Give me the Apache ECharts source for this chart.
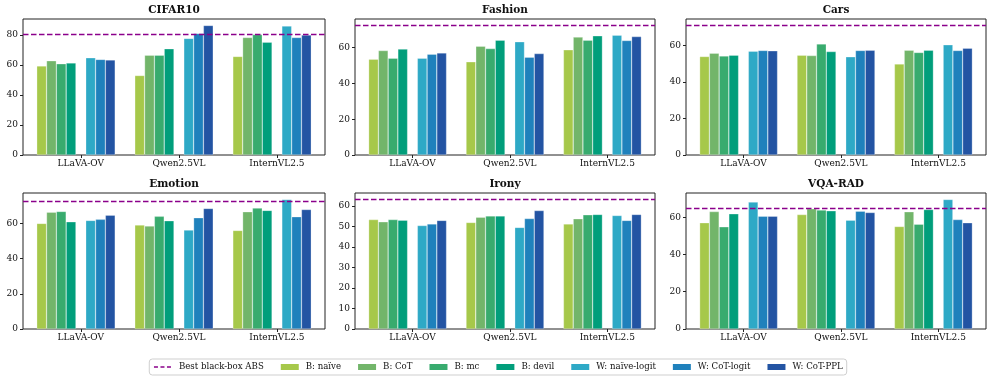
<!DOCTYPE html>
<html>
<head>
<meta charset="utf-8">
<script src="https://cdn.jsdelivr.net/npm/echarts@6/dist/echarts.min.js"></script>
<style>
html,body{margin:0;padding:0;background:#fff;}
#chart{width:996px;height:382px;}
</style>
</head>
<body>
<div id="chart"></div>
<script>
// ---------------- data ----------------
const categories = ['LLaVA-OV', 'Qwen2.5VL', 'InternVL2.5'];
const datasets = ['CIFAR10', 'Fashion', 'Cars', 'Emotion', 'Irony', 'VQA-RAD'];
const seriesNames = ['B: naïve', 'B: CoT', 'B: mc', 'B: devil', 'W: naïve-logit', 'W: CoT-logit', 'W: CoT-PPL'];
const bestName = 'Best black-box ABS';
const bestABS = [80.2, 72.3, 71.0, 72.8, 63.1, 65.0];
const yTickStep = [20, 20, 20, 20, 10, 20];

// rows: series (seriesNames order), columns: categories
const CIFAR10 = [
  [59.3, 52.9, 65.6],
  [62.7, 66.4, 78.2],
  [60.7, 66.4, 80.2],
  [61.3, 70.7, 75.1],
  [64.7, 77.6, 85.8],
  [63.6, 80.9, 78.2],
  [63.3, 86.2, 79.8]
];
const Fashion = [
  [53.5, 52.0, 58.7],
  [58.3, 60.7, 65.8],
  [54.0, 59.4, 64.1],
  [59.1, 64.1, 66.5],
  [54.0, 63.2, 66.9],
  [56.3, 54.6, 63.9],
  [57.0, 56.6, 66.1]
];
const Cars = [
  [54.0, 54.7, 49.9],
  [55.8, 54.5, 57.4],
  [54.3, 60.9, 56.2],
  [54.7, 56.7, 57.4],
  [56.9, 53.8, 60.4],
  [57.3, 57.3, 57.3],
  [57.1, 57.4, 58.5]
];
const Emotion = [
  [60.0, 59.1, 56.0],
  [66.4, 58.5, 66.6],
  [66.8, 64.0, 68.7],
  [60.9, 61.5, 67.4],
  [61.7, 56.2, 73.6],
  [62.3, 63.2, 63.8],
  [64.7, 68.5, 67.9]
];
const Irony = [
  [53.3, 51.9, 51.2],
  [52.2, 54.5, 53.7],
  [53.3, 55.1, 55.6],
  [53.0, 55.1, 55.8],
  [50.4, 49.5, 55.3],
  [51.2, 53.8, 52.9],
  [52.9, 57.7, 55.8]
];
const VQARAD = [
  [57.0, 61.4, 55.0],
  [63.0, 64.5, 62.9],
  [54.8, 63.8, 56.2],
  [61.8, 63.4, 64.1],
  [68.1, 58.4, 69.5],
  [60.5, 63.2, 58.7],
  [60.5, 62.5, 57.0]
];
const panelValues = [CIFAR10, Fashion, Cars, Emotion, Irony, VQARAD];

// ---------------- styles / layout ----------------
const colors = ['#a6c84a', '#72b56a', '#38ab6e', '#019e7b', '#2ea9c6', '#1f81bc', '#2354a3'];
const bestColor = '#8b008b';
const FONT = 'DejaVu Serif';
const colLeft = [23, 355, 686];
const colWidth = [302, 300, 300];
const rowTop = [19, 193];
const gridHeight = 136;

const chart = echarts.init(document.getElementById('chart'), null, {renderer: 'canvas'});

const grids = [], xAxes = [], yAxes = [], titles = [], series = [];
// slot order within a group: 4 black-box bars, gap, 3 white-box bars, gap (group centred on the first gap)
const slotMap = [0, 1, 2, 3, null, 4, 5, 6, null];

datasets.forEach((name, p) => {
  const r = Math.floor(p / 3), c = p % 3;
  grids.push({
    left: colLeft[c], top: rowTop[r], width: colWidth[c], height: gridHeight,
    show: true, borderColor: '#222', borderWidth: 1, backgroundColor: 'transparent'
  });
  titles.push({
    text: name, left: colLeft[c] + colWidth[c] / 2, top: rowTop[r] - 15, textAlign: 'center', padding: 0,
    textStyle: {fontFamily: FONT, fontWeight: 'bold', fontSize: 10.5, color: '#111', lineHeight: 12}
  });
  const vals = panelValues[p];
  let maxV = bestABS[p];
  vals.forEach(row => row.forEach(v => { if (v > maxV) maxV = v; }));
  const yMax = maxV * 1.05;
  const ticks = [];
  for (let t = 0; t <= yMax; t += yTickStep[p]) ticks.push(t);
  xAxes.push({
    type: 'value', gridIndex: p, min: -0.59, max: 2.49,
    axisLine: {show: false, onZero: false}, splitLine: {show: false},
    axisTick: {show: true, length: 3, customValues: [0, 1, 2], lineStyle: {color: '#222', width: 1}},
    axisLabel: {customValues: [0, 1, 2], margin: 4, fontFamily: FONT, fontSize: 9, color: '#111',
      formatter: v => categories[Math.round(v)]}
  });
  yAxes.push({
    type: 'value', gridIndex: p, min: 0, max: yMax,
    axisLine: {show: false, onZero: false}, splitLine: {show: false},
    axisTick: {show: true, length: 3, customValues: ticks, lineStyle: {color: '#222', width: 1}},
    axisLabel: {customValues: ticks, margin: 5, fontFamily: FONT, fontSize: 9, color: '#111'}
  });
  slotMap.forEach((si, k) => {
    if (si === null) {
      series.push({
        type: 'bar', name: 'gap' + k, xAxisIndex: p, yAxisIndex: p,
        data: categories.map((_, ci) => [ci, '-']),
        barGap: '0%', barCategoryGap: '10%', silent: true
      });
    } else {
      series.push({
        type: 'bar', name: seriesNames[si], xAxisIndex: p, yAxisIndex: p,
        data: categories.map((_, ci) => [ci, vals[si][ci]]),
        barGap: '0%', barCategoryGap: '10%',
        itemStyle: {color: colors[si], borderColor: 'rgba(255,255,255,0.55)', borderWidth: 0.5},
        silent: true
      });
    }
  });
  series.push({
    type: 'line', name: bestName, xAxisIndex: p, yAxisIndex: p, data: [],
    symbol: 'none', z: 5,
    lineStyle: {color: bestColor, type: [5.5, 2.5], width: 1.4},
    itemStyle: {color: bestColor},
    markLine: {
      silent: true, symbol: 'none', label: {show: false},
      lineStyle: {color: bestColor, type: [5.5, 2.5], width: 1.4},
      data: [{yAxis: bestABS[p]}]
    }
  });
});

const legendData = [{name: bestName, itemStyle: {opacity: 0}, lineStyle: {type: [4, 2.5], width: 1.4, color: bestColor}}]
  .concat(seriesNames.map(n => ({name: n, icon: 'rect'})));

chart.setOption({
  animation: false,
  title: titles,
  grid: grids,
  xAxis: xAxes,
  yAxis: yAxes,
  legend: {
    data: legendData, left: 'center', top: 359,
    itemWidth: 18, itemHeight: 6, itemGap: 17,
    padding: [3, 4], borderColor: '#cfcfcf', borderWidth: 1, borderRadius: 3,
    itemStyle: {borderWidth: 0},
    textStyle: {fontFamily: FONT, fontSize: 8.6, color: '#111', lineHeight: 10, padding: [0, 0, 0, 2]}
  },
  series: series
});
</script>
</body>
</html>
